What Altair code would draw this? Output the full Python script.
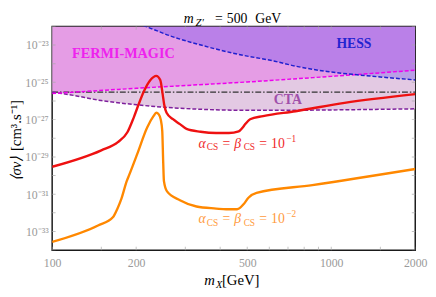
import altair as alt
import pandas as pd

FONT = "Liberation Serif"

# ---------------- data ----------------
# alpha_CS = beta_CS = 1e-1 (red)
red_m = [100, 150, 172, 186, 196, 204, 213, 225, 236, 244, 249, 252, 257, 271, 287,
         303, 340, 387, 430, 466, 480, 492, 512, 570, 745, 1116, 2000]
red_sv = [2.95e-30, 2.24e-29, 6.17e-29, 2.09e-28, 1.29e-27, 6.46e-27, 3.24e-26, 1.35e-25,
          2.24e-25, 1.35e-25, 2.19e-26, 6.46e-27, 2.34e-27, 1.05e-27, 5.75e-28, 3.16e-28,
          2.24e-28, 1.91e-28, 1.91e-28, 2.34e-28, 3.55e-28, 5.75e-28, 1.05e-27, 1.55e-27,
          2.82e-27, 7.94e-27, 2.34e-26]

# alpha_CS = beta_CS = 1e-2 (orange)
org_m = [100, 146, 165, 171, 177, 185, 189, 202, 219, 231, 236, 241, 245, 248, 250, 251.5,
         258, 287, 329, 387, 420, 460, 485, 505, 540, 856, 2000]
org_sv = [2.75e-34, 2.09e-33, 5.75e-33, 1.58e-32, 5.62e-32, 5.01e-31, 1.12e-30, 1.51e-29,
          3.80e-28, 1.58e-27, 2.34e-27, 1.91e-27, 1.0e-27, 2.51e-28, 5.01e-30, 5.01e-31,
          1.41e-31, 4.79e-32, 2.19e-32, 1.70e-32, 1.55e-32, 1.55e-32, 2.88e-32, 6.46e-32,
          1.17e-31, 3.09e-31, 2.24e-30]

# HESS limit (blue dashed)
hess_m = [212, 216, 265, 347, 455, 628, 739, 967, 1268, 2000]
hess_sv = [1.1e-22, 1.0e-22, 3.09e-23, 9.33e-24, 3.39e-24, 1.35e-24, 7.59e-25, 3.80e-25,
           2.45e-25, 1.35e-25]

# FERMI-MAGIC limit (magenta dashed)
fermi_m = [100, 200, 500, 1000, 2000]
fermi_sv = [2.51e-26, 4.79e-26, 1.05e-25, 2.09e-25, 4.47e-25]

# CTA projection (purple dashed)
cta_m = [100, 115, 150, 200, 260, 380, 500, 700, 1000, 2000]
cta_sv = [2.95e-26, 2.19e-26, 1.05e-26, 6.31e-27, 4.47e-27, 3.39e-27, 3.16e-27, 3.16e-27,
          3.31e-27, 3.80e-27]

# thermal relic cross section (black dot-dashed)
relic_m = [100, 2000]
relic_sv = [3.0e-26, 3.0e-26]

# axes
x_domain = [100, 2000]
y_domain = [1e-34, 1e-22]
x_tick_values = [100, 200, 500, 1000, 2000]
x_tick_labels = ["100", "200", "500", "1000", "2000"]
x_minor = [100, 150, 200, 300, 400, 500, 600, 700, 800, 900, 1000, 1500, 2000]
y_tick_values = [1e-33, 1e-31, 1e-29, 1e-27, 1e-25, 1e-23]
y_tick_labels = ["10⁻³³", "10⁻³¹", "10⁻²⁹", "10⁻²⁷", "10⁻²⁵", "10⁻²³"]
y_minor = [1e-34, 1e-33, 1e-32, 1e-31, 1e-30, 1e-29, 1e-28, 1e-27, 1e-26, 1e-25,
           1e-24, 1e-23, 1e-22]

# annotation anchors (data coordinates)
ann_fermi = (180, 3.47e-24)
ann_hess = (1206, 1.17e-23)
ann_cta = (699, 1.1e-26)
ann_red = (334.5, 3.13e-29)
ann_org = (334.5, 2.75e-33)

W, H = 370, 228

# ---------------- helpers ----------------
def frame(m, sv):
    return pd.DataFrame({"m": m, "sv": sv, "top": [y_domain[1]] * len(m)})

yexpr = " : ".join(
    f"datum.value < {v * 3:.3e} ? '{lab}'" for v, lab in zip(y_tick_values, y_tick_labels)
) + " : ''"
xexpr = " : ".join(
    f"datum.value < {v * 1.1} ? '{lab}'" for v, lab in zip(x_tick_values, x_tick_labels)
) + " : ''"

X = alt.X("m:Q", scale=alt.Scale(type="log", domain=x_domain, nice=False),
          axis=alt.Axis(values=x_tick_values, labelExpr=xexpr, title=None, ticks=False,
                        domain=False, grid=False, labelFont=FONT, labelFontSize=12,
                        labelColor="#9a9a9a", labelPadding=8, labelFlush=False))
Y = alt.Y("sv:Q", scale=alt.Scale(type="log", domain=y_domain, nice=False),
          axis=alt.Axis(values=y_tick_values, labelExpr=yexpr, title=None, ticks=False,
                        domain=False, grid=False, labelFont=FONT, labelFontSize=12,
                        labelColor="#9a9a9a", labelPadding=4, labelFlush=False))

def area(m, sv, color, opacity):
    return alt.Chart(frame(m, sv)).mark_area(
        color=color, clip=True, interpolate="monotone", opacity=opacity
    ).encode(x=X, y=Y, y2=alt.Y2("top:Q"))

def line(m, sv, color, width, dash=None):
    kw = dict(color=color, strokeWidth=width, clip=True, interpolate="monotone")
    if dash:
        kw["strokeDash"] = dash
    return alt.Chart(frame(m, sv)).mark_line(**kw).encode(x=X, y=Y)

one = pd.DataFrame({"k": [0]})

def ptext(s, x, y, size=14, color="black", style="normal", weight="normal",
          align="left", baseline="alphabetic", angle=0):
    return alt.Chart(one).mark_text(
        text=s, font=FONT, fontSize=size, color=color, fontStyle=style,
        fontWeight=weight, align=align, baseline=baseline, angle=angle
    ).encode(x=alt.value(x), y=alt.value(y))

def dtext(anchor, s, color, size=14, style="normal", weight="normal", dx=0, dy=0,
          align="left", baseline="alphabetic"):
    return alt.Chart(frame([anchor[0]], [anchor[1]])).mark_text(
        text=s, font=FONT, fontSize=size, color=color, fontStyle=style,
        fontWeight=weight, dx=dx, dy=dy, align=align, baseline=baseline
    ).encode(x=X, y=Y)

def coupling(anchor, exp, color):
    parts = [
        ("α", 0, 0, 14, "italic"),
        ("CS", 8.5, 2.5, 9.5, "normal"),
        ("=", 24.5, 0, 14, "normal"),
        ("β", 36.5, 0, 14, "italic"),
        ("CS", 46, 2.5, 9.5, "normal"),
        ("=", 62, 0, 14, "normal"),
        ("10", 74, 0, 14, "normal"),
        (exp, 89.5, -6, 9.5, "normal"),
    ]
    return [dtext(anchor, s, color, size=sz, style=st, dx=dx, dy=dy)
            for s, dx, dy, sz, st in parts]

# ---------------- layers ----------------
layers = [
    area(cta_m, cta_sv, "#e3c9e3", 1.0),
    area(fermi_m, fermi_sv, "#ee00ee", 0.22),
    area(hess_m, hess_sv, "#6446f0", 0.33),
    line(relic_m, relic_sv, "#333333", 1.3, [6, 2, 1.5, 2]),
    line(cta_m, cta_sv, "#7e1f9c", 1.5, [4, 2]),
    line(fermi_m, fermi_sv, "#ee00ee", 1.5, [4, 2]),
    line(hess_m, hess_sv, "#1f1fcf", 1.5, [4, 2]),
    line(red_m, red_sv, "#ee1111", 2.4),
    line(org_m, org_sv, "#ff8800", 2.4),
]

# inward frame ticks
yt = pd.DataFrame({"sv": y_minor})
xt = pd.DataFrame({"m": x_minor})
for xv in (0, W):
    layers.append(alt.Chart(yt).mark_tick(color="#aaaaaa", thickness=1, size=7, clip=True)
                  .encode(y=Y, x=alt.value(xv)))
for yv in (0, H):
    layers.append(alt.Chart(xt).mark_tick(color="#aaaaaa", thickness=1, size=7, clip=True)
                  .encode(x=X, y=alt.value(yv)))

# region labels
layers += [
    dtext(ann_fermi, "FERMI-MAGIC", "#ee22ee", size=14.5, weight="bold",
          align="center", baseline="middle"),
    dtext(ann_hess, "HESS", "#2424d0", size=14, weight="bold",
          align="center", baseline="middle"),
    dtext(ann_cta, "CTA", "#a050aa", size=14, weight="bold",
          align="center", baseline="middle"),
]
layers += coupling(ann_red, "−1", "#f02828")
layers += coupling(ann_org, "−2", "#ff9a3c")

# title and axis titles (pixel positions relative to plot area)
layers += [
    ptext("m", 134, -3, size=14, style="italic"),
    ptext("Z′", 146, -0.5, size=11, style="italic"),
    ptext("=", 166, -3, size=14),
    ptext("500", 178, -3, size=14),
    ptext("GeV", 207, -3, size=14),
    ptext("m", 155, 264, size=15, style="italic"),
    ptext("X", 167, 267, size=10.5, style="italic"),
    ptext("[GeV]", 173, 264, size=15),
    ptext("⟨σv⟩", -32, 158, size=15, style="italic", angle=270),
    ptext("[cm³.s⁻¹]", -32, 127, size=15, angle=270),
]

chart = alt.layer(*layers).properties(
    width=W, height=H,
    autosize=alt.AutoSizeParams(type="none"),
    padding={"left": 45, "top": 16, "right": 13, "bottom": 45},
).configure_view(stroke="#1a1a1a", strokeWidth=1.5)

chart.save("out.html", embed_options={"renderer": "svg", "actions": False})
